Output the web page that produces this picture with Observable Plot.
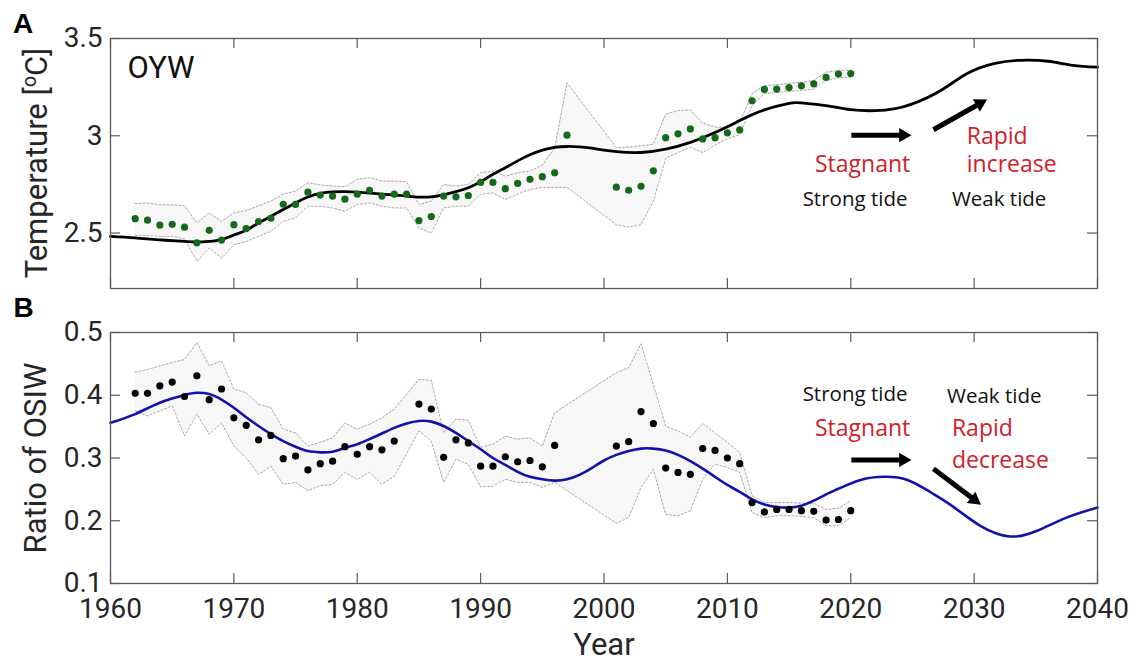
<!DOCTYPE html>
<html>
<head>
<meta charset="utf-8">
<script src="https://cdn.jsdelivr.net/npm/d3@7"></script>
<script src="https://cdn.jsdelivr.net/npm/@observablehq/plot@0.6"></script>
<style>
html,body{margin:0;padding:0;background:#fff;}
#wrap{position:relative;width:1137px;height:662px;overflow:hidden;background:#fff;}
#wrap svg{position:absolute;left:0;}
</style>
</head>
<body>
<div id="wrap"></div>
<script>
// ---------- Panel A : OYW temperature ----------
const yearsA = [1962,1963,1964,1965,1966,1967,1968,1969,1970,1971,1972,1973,1974,1975,1976,1977,1978,1979,1980,1981,1982,1983,1984,1985,1986,1987,1988,1989,1990,1991,1992,1993,1994,1995,1996,1997,
  2001,2002,2003,2004,2005,2006,2007,2008,2009,2010,2011,2012,2013,2014,2015,2016,2017,2018,2019,2020];
const tempA = [2.574,2.566,2.541,2.545,2.53,2.45,2.514,2.464,2.543,2.523,2.559,2.576,2.648,2.647,2.71,2.695,2.69,2.674,2.70,2.72,2.69,2.70,2.70,2.564,2.585,2.69,2.686,2.693,2.76,2.76,2.728,2.755,2.776,2.79,2.81,3.003,
  2.736,2.72,2.74,2.82,2.99,3.01,3.035,2.984,2.99,3.015,3.03,3.18,3.238,3.24,3.248,3.257,3.267,3.30,3.317,3.32];
const tempUpperA = [2.652,2.655,2.645,2.645,2.64,2.552,2.604,2.56,2.604,2.615,2.64,2.664,2.70,2.716,2.759,2.747,2.742,2.738,2.776,2.785,2.767,2.767,2.764,2.647,2.664,2.75,2.741,2.75,2.81,2.819,2.793,2.81,2.819,2.85,2.935,3.272,
  2.94,2.942,2.948,2.957,3.112,3.129,3.133,3.065,3.045,3.04,3.07,3.216,3.259,3.262,3.27,3.275,3.285,3.327,3.336,3.336];
const tempLowerA = [2.49,2.487,2.483,2.483,2.47,2.354,2.423,2.371,2.44,2.457,2.483,2.509,2.56,2.578,2.638,2.638,2.629,2.612,2.647,2.655,2.638,2.629,2.629,2.526,2.50,2.629,2.638,2.638,2.699,2.707,2.673,2.699,2.724,2.735,2.735,2.735,
  2.543,2.531,2.543,2.664,2.885,2.914,2.94,2.914,2.952,2.985,3.005,3.155,3.216,3.222,3.228,3.233,3.24,3.284,3.298,3.30];
const fitYearsA = [1960,1962,1964,1966,1967,1968,1969,1970,1971,1972,1973,1974,1975,1976,1977,1978,1979,1980,1982,1984,1986,1988,1989,1990,1991,1992,1993,1994,1995,1996,1997,1998,1999,2001,2003,2005,2007,2009,2011,2013,2015,2016,2018,2020,2022,2023.5,2025,2027.3,2029.4,2031.6,2033.7,2036,2038,2040];
const fitA = [2.483,2.475,2.465,2.457,2.454,2.457,2.466,2.49,2.514,2.552,2.586,2.621,2.655,2.685,2.704,2.712,2.713,2.71,2.70,2.69,2.686,2.713,2.733,2.764,2.802,2.836,2.871,2.902,2.926,2.94,2.945,2.943,2.936,2.919,2.914,2.931,2.966,3.017,3.078,3.133,3.167,3.169,3.155,3.134,3.129,3.138,3.164,3.233,3.319,3.371,3.388,3.383,3.362,3.353];

// ---------- Panel B : ratio of OSIW ----------
const yearsB = [1962,1963,1964,1965,1966,1967,1968,1969,1970,1971,1972,1973,1974,1975,1976,1977,1978,1979,1980,1981,1982,1983,
  1985,1986,1987,1988,1989,1990,1991,1992,1993,1994,1995,1996,
  2001,2002,2003,2004,2005,2006,2007,2008,2009,2010,2011,2012,2013,2014,2015,2016,2017,2018,2019,2020];
const ratioB = [0.403,0.403,0.415,0.421,0.398,0.431,0.393,0.41,0.364,0.352,0.329,0.336,0.299,0.303,0.281,0.291,0.295,0.318,0.306,0.318,0.313,0.327,
  0.386,0.378,0.301,0.329,0.324,0.287,0.287,0.302,0.294,0.296,0.286,0.32,
  0.319,0.326,0.374,0.355,0.284,0.277,0.274,0.315,0.312,0.30,0.291,0.229,0.214,0.218,0.218,0.216,0.215,0.201,0.202,0.216];
const ratioUpperB = [0.437,0.441,0.447,0.452,0.457,0.484,0.447,0.455,0.41,0.404,0.386,0.38,0.346,0.34,0.319,0.325,0.332,0.356,0.346,0.354,0.364,0.378,
  0.425,0.424,0.34,0.362,0.36,0.317,0.322,0.335,0.33,0.332,0.319,0.372,
  0.436,0.444,0.482,0.417,0.351,0.343,0.333,0.355,0.34,0.325,0.309,0.24,0.229,0.229,0.229,0.228,0.228,0.218,0.22,0.232];
const ratioLowerB = [0.375,0.367,0.375,0.383,0.335,0.37,0.338,0.356,0.319,0.30,0.274,0.287,0.258,0.261,0.248,0.256,0.258,0.277,0.266,0.277,0.258,0.271,
  0.343,0.327,0.261,0.298,0.29,0.254,0.255,0.266,0.261,0.261,0.253,0.261,
  0.196,0.205,0.253,0.282,0.21,0.208,0.216,0.266,0.29,0.285,0.277,0.213,0.205,0.208,0.208,0.207,0.205,0.192,0.192,0.205];
const fitYearsB = [1960,1962,1964,1966,1967,1968,1969,1970,1971,1972,1973,1974,1975,1976,1977,1978,1979,1980,1981,1982,1983,1984,1985,1986,1987,1988,1989,1990,1991,1992,1993,1994,1995,1996,1997,1998,1999,2000,2001,2002,2003,2004,2005,2006,2007,2008,2009,2010,2011,2012,2013,2014,2015,2016,2017,2018,2019,2020.8,2022.7,2024.6,2026.5,2028.4,2030.5,2032.9,2035.1,2037.5,2040];
const fitB = [0.356,0.37,0.388,0.4005,0.404,0.402,0.393,0.38,0.365,0.351,0.338,0.327,0.318,0.311,0.309,0.31,0.316,0.322,0.33,0.339,0.348,0.355,0.359,0.358,0.351,0.34,0.327,0.314,0.30,0.289,0.278,0.27,0.266,0.264,0.266,0.273,0.284,0.296,0.305,0.311,0.315,0.315,0.312,0.305,0.295,0.283,0.27,0.257,0.246,0.234,0.226,0.222,0.221,0.224,0.232,0.242,0.251,0.265,0.27,0.265,0.245,0.221,0.192,0.175,0.184,0.205,0.221];

// ---------- ticks ----------
const xTicks = [1960,1970,1980,1990,2000,2010,2020,2030,2040];
const yTicksA = [2.5,3,3.5];
const yTicksB = [0.1,0.2,0.3,0.4,0.5];

// ---------- annotations (data units) ----------
const redTextA = ["Stagnant","Rapid","increase"];
const redTextAX = [2017.1,2029.4,2029.4];
const redTextAY = [2.85,2.995,2.85];
const blackTextA = ["Strong tide","Weak tide"];
const blackTextAX = [2016.1,2028.2];
const blackTextAY = [2.674,2.674];
// arrow shaft start, and arrow head centre
const arrowsA = {x1:[2020.05,2026.7], y1:[3.003,3.031], x2:[2024.26,2030.47], y2:[3.003,3.166]};

const redTextB = ["Stagnant","Rapid","decrease"];
const redTextBX = [2017.1,2028.2,2028.2];
const redTextBY = [0.347,0.347,0.2963];
const blackTextB = ["Strong tide","Weak tide"];
const blackTextBX = [2016.1,2027.8];
const blackTextBY = [0.4016,0.3974];
const arrowsB = {x1:[2020.05,2026.7], y1:[0.297,0.283], x2:[2024.26,2030.02], y2:[0.297,0.2333]};

// ---------- styling ----------
const W = 1137, ML = 110, MR = 40;
const FW = W - ML - MR;
const frameColor = "#5a5a5a";
const textColor = "#262626";
const red = "#d0202a";
const envFill = "#f7f7f7";
const envStroke = "#a0a0a0";
const xDomain = [1960, 2040];
const yDomainA = [2.215, 3.5];
const yDomainB = [0.1, 0.5];

function inwardTicks(xt, yt, fw, fh, len) {
  const st = {stroke: frameColor, strokeWidth: 1.2};
  return [
    Plot.ruleX(xt, {x: d => d, insetTop: fh - len, ...st}),
    Plot.ruleX(xt, {x: d => d, insetBottom: fh - len, ...st}),
    Plot.ruleY(yt, {y: d => d, insetRight: fw - len, ...st}),
    Plot.ruleY(yt, {y: d => d, insetLeft: fw - len, ...st})
  ];
}

function envelope(years, lo, hi) {
  return [
    Plot.areaY(years, {x: years, y1: lo, y2: hi, fill: envFill}),
    Plot.line(years, {x: years, y: hi, stroke: envStroke, strokeWidth: 0.9, strokeDasharray: "2,2"}),
    Plot.line(years, {x: years, y: lo, stroke: envStroke, strokeWidth: 0.9, strokeDasharray: "2,2"})
  ];
}

// arrows: thick shaft + filled triangular head rotated along the shaft (screen angle)
function arrows(arr, fh, yDom) {
  const kx = FW / (xDomain[1] - xDomain[0]);
  const ky = fh / (yDom[1] - yDom[0]);
  const rot = arr.x1.map((_, i) => {
    const dx = (arr.x2[i] - arr.x1[i]) * kx;
    const dy = -(arr.y2[i] - arr.y1[i]) * ky;
    return Math.atan2(dy, dx) * 180 / Math.PI + 90;
  });
  return [
    Plot.link(arr.x1, {x1: arr.x1, y1: arr.y1, x2: arr.x2, y2: arr.y2, stroke: "black", strokeWidth: 5}),
    Plot.dot(arr.x2, {x: arr.x2, y: arr.y2, symbol: "triangle2", r: 6.8, fill: "black", stroke: "none", rotate: rot})
  ];
}

function annot(redT, rx, ry, blackT, bx, by) {
  return [
    Plot.text(redT, {x: rx, y: ry, text: d => d, fill: red, fontSize: 23, fontFamily: "Open Sans", textAnchor: "start", lineAnchor: "middle"}),
    Plot.text(blackT, {x: bx, y: by, text: d => d, fill: "#111", fontSize: 20.5, fontFamily: "Open Sans", textAnchor: "start", lineAnchor: "middle"})
  ];
}

// ---------- Panel A ----------
const hA = 290, mtA = 38, mbA = 2;
const fhA = hA - mtA - mbA;
const plotA = Plot.plot({
  width: W, height: hA, marginLeft: ML, marginRight: MR, marginTop: mtA, marginBottom: mbA,
  style: {fontFamily: "Roboto, sans-serif", fontSize: "28px", color: textColor, background: "transparent"},
  x: {domain: xDomain, axis: null},
  y: {domain: yDomainA, axis: null},
  marks: [
    ...envelope(yearsA, tempLowerA, tempUpperA),
    Plot.line(fitYearsA, {x: fitYearsA, y: fitA, stroke: "#000", strokeWidth: 2.8, curve: "natural"}),
    Plot.dot(yearsA, {x: yearsA, y: tempA, r: 3.6, fill: "#17691a", stroke: "none"}),
    ...arrows(arrowsA, fhA, yDomainA),
    ...annot(redTextA, redTextAX, redTextAY, blackTextA, blackTextAX, blackTextAY),
    Plot.text(["OYW"], {frameAnchor: "top-left", dx: 17, dy: 30, text: d => d, fontSize: 31, fill: "#111", textAnchor: "start", lineAnchor: "middle"}),
    Plot.text(["A"], {frameAnchor: "top-left", dx: -87.5, dy: -14, text: d => d, fontSize: 28, fontWeight: "bold", fontFamily: "Liberation Sans, Arial, sans-serif", fill: "#000", textAnchor: "middle", lineAnchor: "middle"}),
    Plot.frame({stroke: frameColor, strokeWidth: 1.3}),
    ...inwardTicks(xTicks, yTicksA, FW, fhA, 10),
    Plot.axisY(yTicksA, {anchor: "left", tickSize: 0, tickPadding: 8, fontSize: 28, fill: textColor, tickFormat: d => String(d), label: null})
  ]
});

// ---------- Panel B ----------
const hB = 372, mtB = 42, mbB = 79;
const fhB = hB - mtB - mbB;
const plotB = Plot.plot({
  width: W, height: hB, marginLeft: ML, marginRight: MR, marginTop: mtB, marginBottom: mbB,
  style: {fontFamily: "Roboto, sans-serif", fontSize: "28px", color: textColor, background: "transparent"},
  x: {domain: xDomain, axis: null},
  y: {domain: yDomainB, axis: null},
  marks: [
    ...envelope(yearsB, ratioLowerB, ratioUpperB),
    Plot.line(fitYearsB, {x: fitYearsB, y: fitB, stroke: "#1212aa", strokeWidth: 2.6, curve: "natural"}),
    Plot.dot(yearsB, {x: yearsB, y: ratioB, r: 3.6, fill: "#000", stroke: "none"}),
    ...arrows(arrowsB, fhB, yDomainB),
    ...annot(redTextB, redTextBX, redTextBY, blackTextB, blackTextBX, blackTextBY),
    Plot.text(["B"], {frameAnchor: "top-left", dx: -87, dy: -24, text: d => d, fontSize: 28, fontWeight: "bold", fontFamily: "Liberation Sans, Arial, sans-serif", fill: "#000", textAnchor: "middle", lineAnchor: "middle"}),
    Plot.text(["Ratio of OSIW"], {frameAnchor: "left", dx: -74, rotate: -90, text: d => d, fontSize: 31, fill: textColor, textAnchor: "middle", lineAnchor: "middle"}),
    Plot.text(["Year"], {frameAnchor: "bottom", dy: 62, text: d => d, fontSize: 31, fill: textColor, textAnchor: "middle", lineAnchor: "middle"}),
    Plot.frame({stroke: frameColor, strokeWidth: 1.3}),
    ...inwardTicks(xTicks, yTicksB, FW, fhB, 10),
    Plot.axisY(yTicksB, {anchor: "left", tickSize: 0, tickPadding: 8, fontSize: 28, fill: textColor, tickFormat: d3.format(".1f"), label: null}),
    Plot.axisX(xTicks, {anchor: "bottom", tickSize: 0, tickPadding: 15, fontSize: 28, fill: textColor, tickFormat: d => String(d), label: null})
  ]
});

// y label of panel A with superscript "o"
{
  const cy = (mtA + (hA - mbA)) / 2;
  const t = d3.select(plotA).append("text")
    .attr("transform", `translate(${ML - 74},${cy}) rotate(-90)`)
    .attr("text-anchor", "middle")
    .attr("dy", "0.35em")
    .attr("font-family", "Roboto, sans-serif")
    .attr("font-size", 31)
    .attr("fill", textColor);
  t.append("tspan").text("Temperature [");
  t.append("tspan").attr("font-size", 20).attr("dy", -11).text("o");
  t.append("tspan").attr("font-size", 31).attr("dy", 11).text("C]");
}

const wrap = document.getElementById("wrap");
plotA.style.top = "0px";
plotB.style.top = hA + "px";
wrap.appendChild(plotA);
wrap.appendChild(plotB);
</script>
</body>
</html>
